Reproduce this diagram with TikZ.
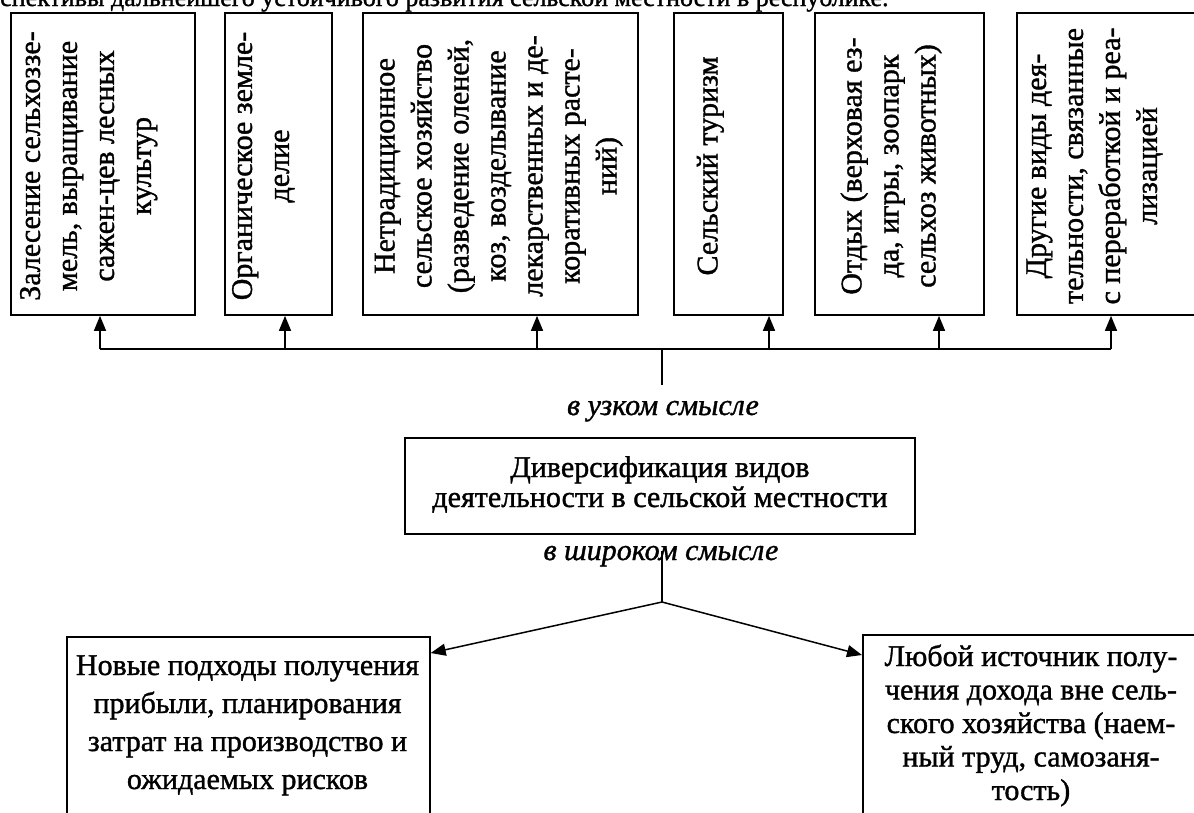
\documentclass[tikz,border=0pt]{standalone}
\usepackage{fontspec}
\setmainfont{Liberation Serif}[
  BoldFont={Liberation Serif},BoldFeatures={FakeBold=1.2},
  BoldItalicFont={Liberation Serif Italic},BoldItalicFeatures={FakeBold=1.2}]
\usetikzlibrary{arrows.meta,calc}
\newcommand{\vlines}[1]{\begin{tabular}{@{}c@{}}#1\end{tabular}}
\newcommand{\tlines}[1]{\begin{tabular}[t]{@{}c@{}}#1\end{tabular}}
\begin{document}
\begin{tikzpicture}[x=1pt,y=-1pt,
  box/.style={draw,line width=1.7pt,inner sep=0pt},
  vt/.style={rotate=90,inner sep=0pt,font=\fontsize{30}{37}\selectfont\bfseries},
  bt/.style={inner sep=0pt,anchor=base},
  lbl/.style={inner sep=0pt,anchor=base,font=\fontsize{30}{36}\selectfont\bfseries\itshape},
  ln/.style={line width=1.5pt},
  arr/.style={line width=1.5pt,-{Triangle[width=12pt,length=15pt]}}]
\useasboundingbox (0,0) rectangle (1194,812);
\clip (0,0) rectangle (1194,812);
\fill[white] (0,0) rectangle (1194,812);

% header (cut-off line of the page)
\node[inner sep=0pt,anchor=base west,font=\fontsize{26}{30}\selectfont\bfseries] (hdr) at (0,6)
  {спективы дальнейшего устойчивого развития сельской местности в республике.};

% top boxes
\node[box,minimum width=184pt,minimum height=302pt] (b1) at (103,164) {};
\node[box,minimum width=107pt,minimum height=302pt] (b2) at (278.5,164) {};
\node[box,minimum width=275pt,minimum height=302pt] (b3) at (500.5,164) {};
\node[box,minimum width=109pt,minimum height=302pt] (b4) at (728.5,164) {};
\node[box,minimum width=169pt,minimum height=302pt] (b5) at (899.5,164) {};
\node[box,minimum width=203pt,minimum height=302pt] (b6) at (1118.5,164) {};

\node[vt] (t1) at (88,166) {\vlines{Залесение сельхоззе-\\мель, выращивание\\сажен-цев лесных\\культур}};
\node[vt] (t2) at (263,166) {\vlines{Органическое земле-\\делие}};
\node[vt] (t3) at (498,166) {\vlines{Нетрадиционное\\сельское хозяйство\\(разведение оленей,\\коз, возделывание\\лекарственных и де-\\коративных расте-\\ний)}};
\node[vt] (t4) at (710,166) {\vlines{Сельский туризм}};
\node[vt] (t5) at (891,166) {\vlines{Отдых (верховая ез-\\да, игры, зоопарк\\сельхоз животных)}};
\node[vt] (t6) at (1094,166) {\vlines{Другие виды дея-\\тельности, связанные\\с переработкой и реа-\\лизацией}};

% distribution line
\coordinate (j1) at (100,349);
\coordinate (j2) at (285,349);
\coordinate (j3) at (537,349);
\coordinate (j4) at (769,349);
\coordinate (j5) at (939,349);
\coordinate (j6) at (1111,349);
\coordinate (hub) at (662,349);
\coordinate (stem) at (662,385);
\draw[ln] (j1) -- (j6);
\draw[ln] (hub) -- (stem);
\foreach \i in {1,...,6} \draw[arr] (j\i) -- (j\i |- b\i.south);

% centre
\node[lbl] (narrow) at (663,415) {в узком смысле};
\node[box,minimum width=510pt,minimum height=96pt,font=\fontsize{30}{30}\selectfont\bfseries] (div) at (660,486)
  {\vlines{Диверсификация видов\\деятельности в сельской местности}};
\node[lbl] (broad) at (661,560) {в широком смысле};
\coordinate (s2) at (662,551);
\coordinate (fork) at (662,602);
\draw[ln] (s2) -- (fork);

% bottom boxes
\node[box,minimum width=363pt,minimum height=300pt,anchor=north west] (nl) at (66,636) {};
\node[bt,font=\fontsize{30}{38}\selectfont\bfseries] (nlt) at (247.5,675)
  {\tlines{Новые подходы получения\\прибыли, планирования\\затрат на производство и\\ожидаемых рисков}};
\node[box,minimum width=350pt,minimum height=300pt,anchor=north west] (nr) at (862,634) {};
\node[bt,font=\fontsize{30}{33.5}\selectfont\bfseries] (nrt) at (1031,666)
  {\tlines{Любой источник полу-\\чения дохода вне сель-\\ского хозяйства (наем-\\ный труд, самозаня-\\тость)}};

\draw[arr] (fork) -- ($(nl.north east)+(0,17)$);
\draw[arr] (fork) -- ($(nr.north west)+(0,21)$);
\end{tikzpicture}
\end{document}
